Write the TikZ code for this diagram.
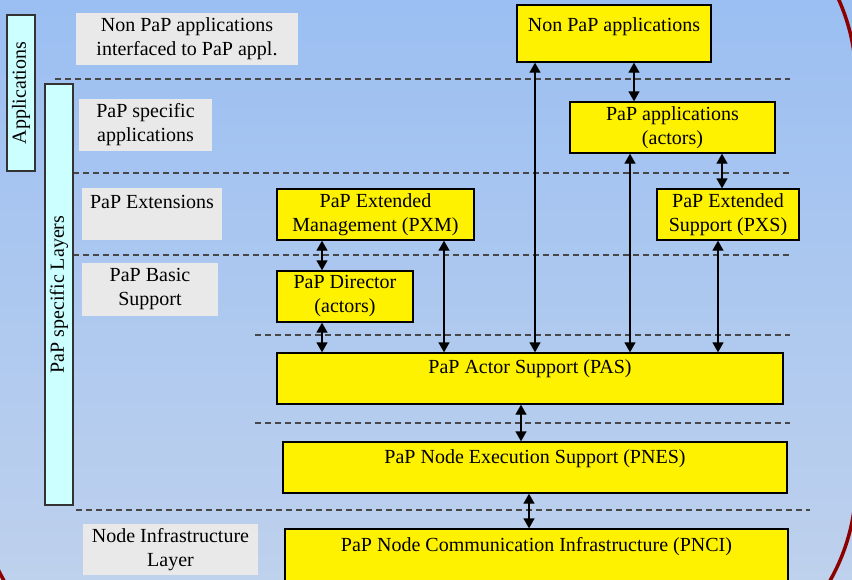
\documentclass[tikz,border=0pt]{standalone}
\usepackage{xcolor}
\usepackage{fontspec}
\setmainfont{Liberation Serif}
\usepackage{tikz}
\usetikzlibrary{arrows.meta}

\definecolor{bgtop}{RGB}{155,191,242}
\definecolor{bgbot}{RGB}{190,209,237}
\definecolor{framered}{RGB}{140,0,0}
\definecolor{paleblue}{RGB}{204,255,255}
\definecolor{taggray}{RGB}{233,233,233}

\begin{document}
\begin{tikzpicture}[x=1pt,y=-1pt,
    every node/.style={font=\fontsize{20}{24}\selectfont},
    layer/.style={draw=black!80,fill=paleblue,line width=1.3pt,inner sep=0},
    tag/.style={fill=taggray,inner sep=0,align=center},
    unit/.style={draw=black,fill=yellow,line width=1.3pt,inner sep=0,align=center},
    sep/.style={draw=black!72,dash pattern=on 6pt off 4pt,line width=1.2pt},
    link/.style={{Triangle[length=10pt,width=11pt]}-{Triangle[length=10pt,width=11pt]},line width=1.3pt}]
    \useasboundingbox (0,0) rectangle (852,579);
    \clip (0,0) rectangle (852,579);
    \fill[top color=bgtop,bottom color=bgbot] (0,0) rectangle (852,579);
    \draw[framered,line width=3.5pt,rounded corners=200pt] (-22,-119) rectangle (856,682);

    % layer separators
    \draw[sep] (55,79) -- (790,79);
    \draw[sep] (73,173) -- (790,173);
    \draw[sep] (73,255) -- (790,255);
    \draw[sep] (255,335) -- (790,335);
    \draw[sep] (255,423) -- (790,423);
    \draw[sep] (76,510) -- (810,510);

    % side bars
    \node[layer,rotate=90,minimum width=156pt,minimum height=28pt] (app) at (21,93) {Applications};
    \node[layer,rotate=90,minimum width=421pt,minimum height=28pt] (psl) at (59,294.5) {PaP specific Layers};

    % layer names
    \node[tag,minimum width=222pt,minimum height=52pt] (t1) at (187,39) {Non PaP applications\\interfaced to PaP appl.};
    \node[tag,minimum width=133pt,minimum height=52pt] (t2) at (145.5,125) {PaP specific\\applications};
    \node[tag,minimum width=140pt,minimum height=52pt,
        label={[anchor=north,inner sep=0,yshift=-7pt]north:PaP Extensions}] (t3) at (152,214) {};
    \node[tag,minimum width=136pt,minimum height=53pt] (t4) at (150,289.5) {PaP Basic\\Support};
    \node[tag,minimum width=175pt,minimum height=51pt] (t5) at (170.5,549.5) {Node Infrastructure\\Layer};

    % blocks
    \node[unit,minimum width=194pt,minimum height=57pt,
        label={[anchor=north,inner sep=0,yshift=-13pt]north:Non PaP applications}] (npa) at (614,33.5) {};
    \node[unit,minimum width=205pt,minimum height=51pt] (pa) at (672.5,127.5) {PaP applications\\(actors)};
    \node[unit,minimum width=142pt,minimum height=51pt] (pxs) at (728,214.5) {PaP Extended\\Support (PXS)};
    \node[unit,minimum width=197pt,minimum height=51pt] (pxm) at (375.5,214.5) {PaP Extended\\Management (PXM)};
    \node[unit,minimum width=136pt,minimum height=51pt] (pd) at (345,296.5) {PaP Director\\(actors)};
    \node[unit,minimum width=506pt,minimum height=51pt,
        label={[anchor=north,inner sep=0,yshift=-7pt]north:PaP Actor Support (PAS)}] (pas) at (530,378.5) {};
    \node[unit,minimum width=504pt,minimum height=51pt,
        label={[anchor=north,inner sep=0,yshift=-8pt]north:PaP Node Execution Support (PNES)}] (pnes) at (535,467.5) {};
    \node[unit,minimum width=503pt,minimum height=62pt,
        label={[anchor=north,inner sep=0,yshift=-9pt]north:PaP Node Communication Infrastructure (PNCI)}] (pnci) at (536.5,560) {};

    % interfaces
    \draw[link] ([xshift=20pt]npa.south) -- ([xshift=-38.5pt]pa.north);
    \draw[link] ([xshift=49.5pt]pa.south) -- ([xshift=-6pt]pxs.north);
    \draw[link] ([xshift=-53.5pt]pxm.south) -- ([xshift=-23pt]pd.north);
    \draw[link] ([xshift=-23pt]pd.south) -- ([xshift=-208pt]pas.north);
    \draw[link] ([xshift=68.5pt]pxm.south) -- ([xshift=-86pt]pas.north);
    \draw[link] ([xshift=-79pt]npa.south) -- ([xshift=5pt]pas.north);
    \draw[link] ([xshift=-42.5pt]pa.south) -- ([xshift=100pt]pas.north);
    \draw[link] ([xshift=-10pt]pxs.south) -- ([xshift=188pt]pas.north);
    \draw[link] ([xshift=-9pt]pas.south) -- ([xshift=-14pt]pnes.north);
    \draw[link] ([xshift=-6pt]pnes.south) -- ([xshift=-7.5pt]pnci.north);
\end{tikzpicture}
\end{document}
